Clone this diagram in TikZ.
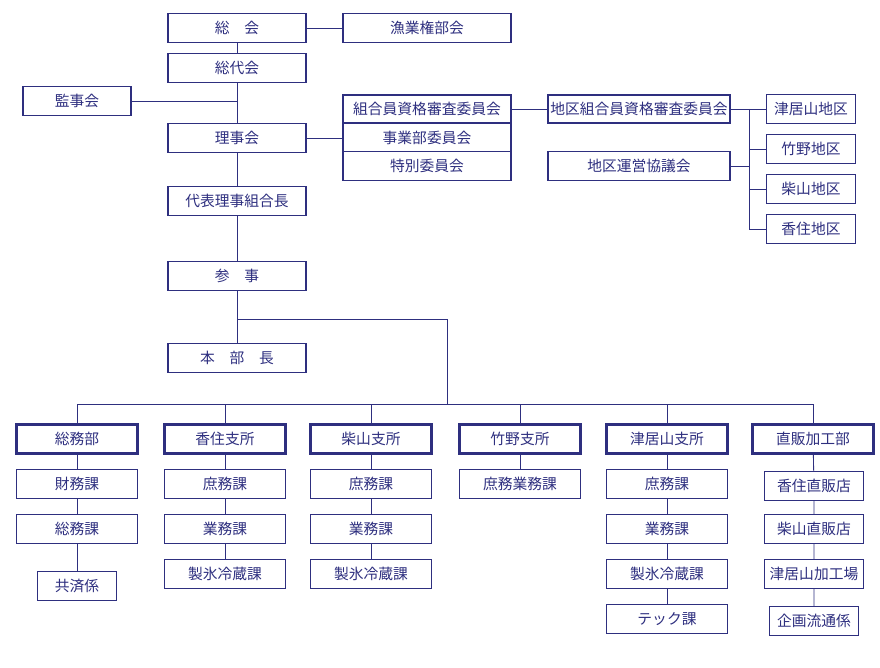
\documentclass[tikz,border=0pt]{standalone}
\usepackage{fontspec}
\setmainfont{Noto Sans CJK JP}
\usetikzlibrary{positioning}
\definecolor{navy}{HTML}{2E2F7F}
\tikzset{
  box/.style={draw=navy, line width=0.8pt, fill=white, text=navy, inner sep=0pt,
    minimum width=3.45cm, minimum height=0.72cm, font=\fontsize{10.5}{12}\selectfont},
  bigbox/.style={box, line width=1.6pt, minimum width=3.02cm},
  subbox/.style={box, minimum width=3.02cm},
  link/.style={draw=navy, line width=0.6pt}
}
\begin{document}
\begin{tikzpicture}[x=0.025cm, y=-0.025cm]
\useasboundingbox (0,0) rectangle (880,668);

% upper part
\node[box] (soukai) at (237,28) {総\quad 会};
\node[box, minimum width=4.2cm] (gyogyo) at (427,28) {漁業権部会};
\node[box] (soudai) at (237,68) {総代会};
\node[box, minimum width=2.7cm] (kanji) at (77,101) {監事会};
\node[box] (riji) at (237,138) {理事会};
\node[box, minimum width=4.2cm, minimum height=0.7cm] (shikaku) at (427,109) {組合員資格審査委員会};
\node[box, minimum width=4.2cm] (jigyo) at (427,138) {事業部委員会};
\node[box, minimum width=4.2cm] (tokubetsu) at (427,166) {特別委員会};
\node[box, minimum width=4.55cm, minimum height=0.7cm] (chikushikaku) at (639,109) {地区組合員資格審査委員会};
\node[box, minimum width=4.55cm] (chikuunei) at (639,166) {地区運営協議会};
\node[box, minimum width=2.22cm] (tsuiyamachiku) at (811,109) {津居山地区};
\node[box, minimum width=2.22cm] (takenochiku) at (811,149) {竹野地区};
\node[box, minimum width=2.22cm] (shibayamachiku) at (811,189) {柴山地区};
\node[box, minimum width=2.22cm] (kasumichiku) at (811,229) {香住地区};
\node[box] (daihyo) at (237,201) {代表理事組合長};
\node[box] (sanji) at (237,276) {参\quad 事};
\node[box] (honbu) at (237,358) {本\quad 部\quad 長};

\coordinate (kanjiend) at (237,101);
\coordinate (branch) at (237,319);
\coordinate (branchr) at (447,319);
\coordinate (bus) at (447,404);
\coordinate (rail) at (749,109);
\coordinate (railend) at (749,229);

\path[link] (soukai) -- (soudai) -- (riji) -- (daihyo) -- (sanji) -- (honbu);
\path[link] (soukai) -- (gyogyo);
\path[link] (kanji) -- (kanjiend);
\path[link] (riji) -- (jigyo);
\path[link] (shikaku) -- (chikushikaku);
\path[link] (chikushikaku) -- (tsuiyamachiku);
\path[link] (chikuunei.east) -- (chikuunei.east -| rail);
\path[link] (rail) -- (railend);
\path[link] (takenochiku.west -| rail) -- (takenochiku);
\path[link] (shibayamachiku.west -| rail) -- (shibayamachiku);
\path[link] (kasumichiku.west -| rail) -- (kasumichiku);
\path[link] (branch) -- (branchr) -- (bus);

% departments
\node[bigbox] (somubu) at (77,439) {総務部};
\node[bigbox] (kasumi) at (225,439) {香住支所};
\node[bigbox] (shibayama) at (371,439) {柴山支所};
\node[bigbox] (takeno) at (520,439) {竹野支所};
\node[bigbox] (tsuiyama) at (667,439) {津居山支所};
\node[bigbox] (chokuhan) at (813,439) {直販加工部};

\path[link] (somubu.north |- bus) -- (chokuhan.north |- bus);
\foreach \d in {somubu,kasumi,shibayama,takeno,tsuiyama,chokuhan}
  \path[link] (\d.north |- bus) -- (\d.north);

% sections
\node[subbox] (zaimu) at (77,484) {財務課};
\node[subbox] (somuka) at (77,529) {総務課};
\node[subbox, minimum width=1.98cm] (kyosai) at (77,586) {共済係};
\node[subbox] (kshomu) at (225,484) {庶務課};
\node[subbox] (kgyomu) at (225,529) {業務課};
\node[subbox] (kseihyo) at (225,574) {製氷冷蔵課};
\node[subbox] (sshomu) at (371,484) {庶務課};
\node[subbox] (sgyomu) at (371,529) {業務課};
\node[subbox] (sseihyo) at (371,574) {製氷冷蔵課};
\node[subbox] (tshomugyomu) at (520,484) {庶務業務課};
\node[subbox] (yshomu) at (667,484) {庶務課};
\node[subbox] (ygyomu) at (667,529) {業務課};
\node[subbox] (yseihyo) at (667,574) {製氷冷蔵課};
\node[subbox] (ytech) at (667,619) {テック課};
\node[subbox, minimum width=2.48cm] (kasumiten) at (814,486) {香住直販店};
\node[subbox, minimum width=2.48cm] (shibayamaten) at (814,529) {柴山直販店};
\node[subbox, minimum width=2.48cm] (kakoba) at (814,574) {津居山加工場};
\node[subbox, minimum width=2.22cm] (kikaku) at (814,621) {企画流通係};

\path[link] (somubu) -- (zaimu) -- (somuka) -- (kyosai);
\path[link] (kasumi) -- (kshomu) -- (kgyomu) -- (kseihyo);
\path[link] (shibayama) -- (sshomu) -- (sgyomu) -- (sseihyo);
\path[link] (takeno) -- (tshomugyomu);
\path[link] (tsuiyama) -- (yshomu) -- (ygyomu) -- (yseihyo) -- (ytech);
\path[link] (chokuhan) -- (kasumiten) -- (shibayamaten) -- (kakoba) -- (kikaku);
\end{tikzpicture}
\end{document}
